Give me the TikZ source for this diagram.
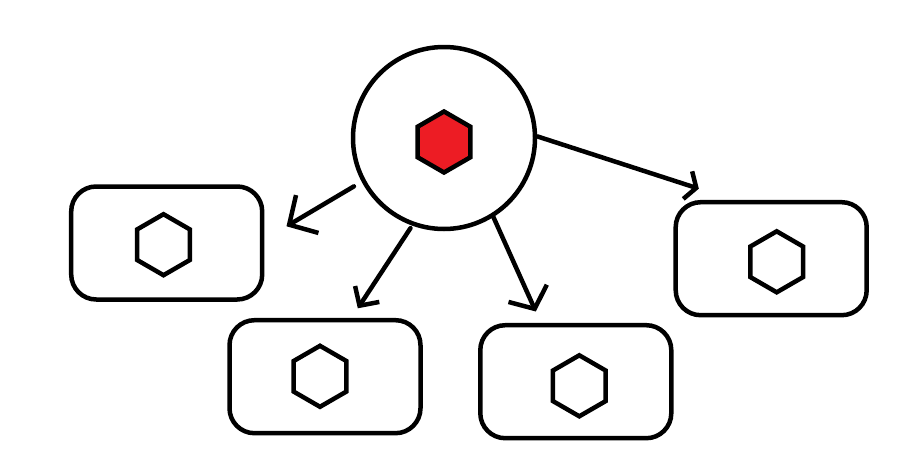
\documentclass[tikz,border=0pt]{standalone}
\usetikzlibrary{shapes.geometric,arrows.meta}
\definecolor{hexred}{HTML}{ED1C24}
\begin{document}
\begin{tikzpicture}[x=1pt,y=-1pt,
  stroke/.style={line width=4.5pt},
  hub/.style={stroke, draw, circle, minimum size=182pt, inner sep=0pt},
  hexa/.style={stroke, draw, regular polygon, regular polygon sides=6, shape border rotate=30, minimum size=61pt, inner sep=0pt},
  card/.style={stroke, draw, rectangle, rounded corners=25pt, minimum width=191pt, minimum height=113pt, inner sep=0pt},
  arr/.style={stroke, line cap=round, line join=round},
  head/.style 2 args={arrows={-{Straight Barb[length=#1,width=#2]}}}
]
\fill[white] (0,0) rectangle (899,458);
\useasboundingbox (0,0) rectangle (899,458);

% hub
\node[hub] (c) at (444,138) {};
\node[hexa, fill=hexred] (hc) at (444,142) {};

% cards
\node[card] (b1) at (166.7,243) {};
\node[card] (b2) at (325,376.7) {};
\node[card] (b3) at (575.8,381.7) {};
\node[card] (b4) at (771.2,258.7) {};

\node[hexa] (h1) at (163.5,244.7) {};
\node[hexa] (h2) at (320,376.3) {};
\node[hexa] (h3) at (579.3,385.8) {};
\node[hexa] (h4) at (776.7,261.8) {};

% arrow tips (free ends)
\coordinate (t1) at (286.5,226.3);
\coordinate (t2) at (357.8,308.3);
\coordinate (t3) at (535.8,311.5);
\coordinate (t4) at (698.8,188.7);

\draw[arr, head={21pt}{44pt}, shorten <=9pt] (c.208) -- (t1);
\draw[arr, head={14pt}{29pt}, shorten <=3pt] (c.250) -- (t2);
\draw[arr, head={17pt}{42pt}] (c.302) -- (t3);
\draw[arr, head={9pt}{29pt}] (c.1) -- (t4);
\end{tikzpicture}
\end{document}
